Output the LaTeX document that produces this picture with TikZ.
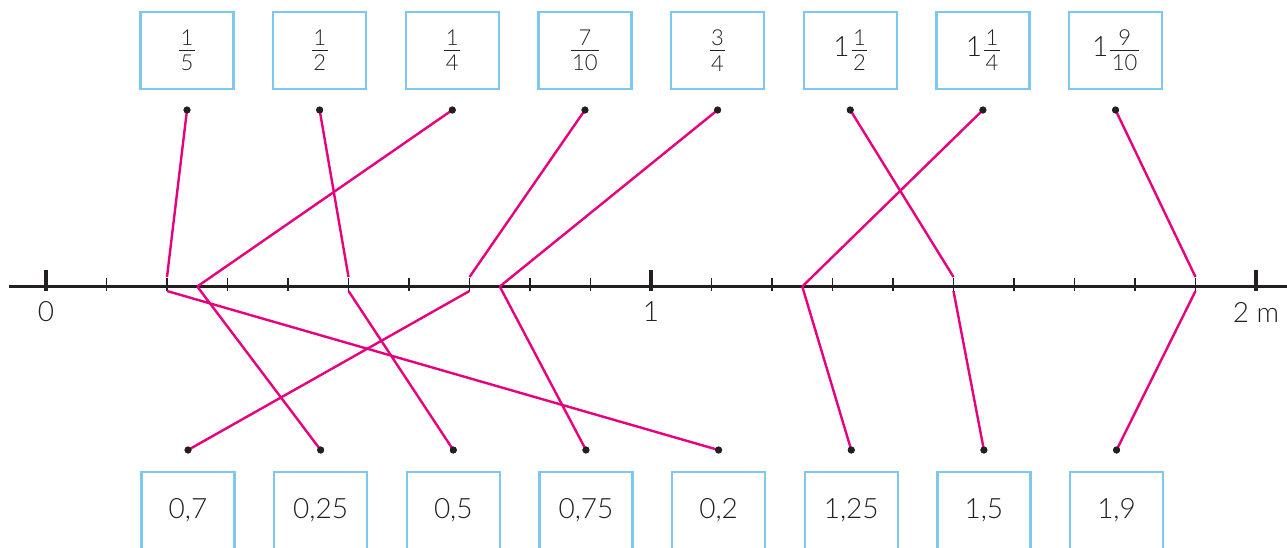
\documentclass[tikz,border=0pt]{standalone}
\usepackage{fontspec}
\setmainfont{Lato}[UprightFont=* Light]
\definecolor{boxblue}{RGB}{125,200,240}
\definecolor{pinkline}{RGB}{230,0,126}
\definecolor{ink}{RGB}{35,31,32}
\newcommand\myfr[2]{\ensuremath{\vcenter{\offinterlineskip\fontsize{22}{22}\selectfont
 \setbox0=\hbox{#1}\setbox2=\hbox{#2}%
 \dimen0=\wd0 \ifdim\wd2>\dimen0 \dimen0=\wd2 \fi
 \advance\dimen0 by 3pt
 \hbox to\dimen0{\hfil\box0\hfil}\kern4pt
 \hrule width\dimen0 height 1.5pt\kern4pt
 \hbox to\dimen0{\hfil\box2\hfil}}}}
\begin{document}
\begin{tikzpicture}[x=1pt,y=-1pt,
  valbox/.style={draw=boxblue,line width=2.3pt,minimum width=93pt,minimum height=77pt,inner sep=0pt,text=ink,font=\fontsize{28}{30}\selectfont},
  axisline/.style={draw=ink,line width=2.2pt},
  minortick/.style={draw=ink,line width=1.3pt},
  majortick/.style={draw=ink,line width=3.5pt},
  axislabel/.style={text=ink,font=\fontsize{28}{30}\selectfont,inner sep=0pt},
  dotnode/.style={circle,fill=ink,inner sep=0pt,minimum size=7pt},
  link/.style={draw=pinkline,line width=2.4pt}]
\useasboundingbox (0,0) rectangle (1287,547);
\clip (0,0) rectangle (1287,547);
% number line
\draw[axisline] (9,286.5) -- (1287,286.5);
\foreach \i in {1,...,9,11,12,...,19}
  \draw[minortick] ({46+60.5*\i},277.5) -- ({46+60.5*\i},290.5);
\foreach \x in {46,651,1256}
  \draw[majortick] (\x,270) -- (\x,291);
\node[axislabel] (n0) at (46,312) {0};
\node[axislabel] (n1) at (651,312) {1};
\node[axislabel] (n2) at (1256,312) {2 m};
% points on the line
\coordinate (u20) at (167,277);    \coordinate (d20) at (167,291);
\coordinate (u25) at (197.25,286.5); \coordinate (d25) at (197.25,286.5);
\coordinate (u50) at (348.5,277);  \coordinate (d50) at (348.5,291);
\coordinate (u70) at (469.5,277);  \coordinate (d70) at (469.5,291);
\coordinate (u75) at (499.75,286.5); \coordinate (d75) at (499.75,286.5);
\coordinate (u125) at (802.25,286.5); \coordinate (d125) at (802.25,286.5);
\coordinate (u150) at (953.5,277); \coordinate (d150) at (953.5,291);
\coordinate (u190) at (1195.5,277); \coordinate (d190) at (1195.5,291);
% top boxes
\foreach \t [count=\i from 0] in {{\myfr{1}{5}},{\myfr{1}{2}},{\myfr{1}{4}},{\myfr{7}{10}},{\myfr{3}{4}},{1\kern2pt\myfr{1}{2}},{1\kern2pt\myfr{1}{4}},{1\kern2pt\myfr{9}{10}}}{
  \node[valbox] (T\i) at ({187+132.65*\i},50.5) {\t};
  \node[dotnode] (t\i) at ({187+132.65*\i},110) {};
}
% bottom boxes
\foreach \t [count=\i from 0] in {{0,7},{0,25},{0,5},{0,75},{0,2},{1,25},{1,5},{1,9}}{
  \node[valbox] (B\i) at ({188+132.65*\i},510.5) {\t};
  \node[dotnode] (b\i) at ({188+132.65*\i},450) {};
}
% connectors
\draw[link] (t0.center) -- (u20);
\draw[link] (t1.center) -- (u50);
\draw[link] (t2.center) -- (u25);
\draw[link] (t3.center) -- (u70);
\draw[link] (t4.center) -- (u75);
\draw[link] (t5.center) -- (u150);
\draw[link] (t6.center) -- (u125);
\draw[link] (t7.center) -- (u190);
\draw[link] (b0.center) -- (d70);
\draw[link] (b1.center) -- (d25);
\draw[link] (b2.center) -- (d50);
\draw[link] (b3.center) -- (d75);
\draw[link] (b4.center) -- (d20);
\draw[link] (b5.center) -- (d125);
\draw[link] (b6.center) -- (d150);
\draw[link] (b7.center) -- (d190);
% redraw dots on top
\foreach \i in {0,...,7}{
  \fill[ink] (t\i) circle (3.5pt);
  \fill[ink] (b\i) circle (3.5pt);
}
\end{tikzpicture}
\end{document}
